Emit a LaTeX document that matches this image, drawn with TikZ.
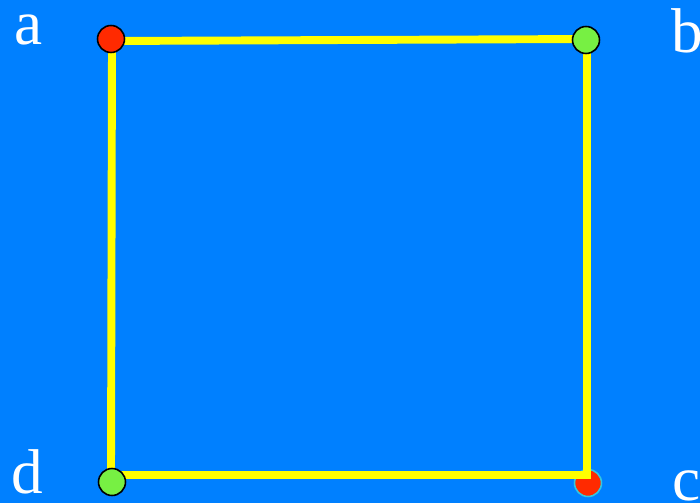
\documentclass[tikz,border=0pt]{standalone}
\usepackage{fontspec}
\setmainfont{Liberation Serif}
\usetikzlibrary{positioning}
\definecolor{bgblue}{HTML}{0080FF}
\definecolor{edgeyellow}{HTML}{FFFF00}
\definecolor{dotred}{HTML}{FF2A00}
\definecolor{dotgreen}{HTML}{77F043}
\definecolor{rimcyan}{HTML}{33C8E0}
\tikzset{
  edge/.style={draw=edgeyellow, line width=4.5pt, line join=miter},
  dot/.style={circle, draw=black, line width=0.9pt, minimum size=0.54cm, inner sep=0pt},
  reddot/.style={dot, fill=dotred},
  greendot/.style={dot, fill=dotgreen},
  cornerlabel/.style={text=white, font=\fontsize{36}{40}\selectfont, inner sep=0pt, anchor=base west},
}

\begin{document}
\begin{tikzpicture}[x=0.02cm, y=-0.02cm]
  % Hintergrund
  \fill[bgblue] (0,0) rectangle (700,503);
  \useasboundingbox (0,0) rectangle (700,503);
  % Ecken des Quadrats
  \coordinate (A) at (112,41);
  \coordinate (B) at (587,39);
  \coordinate (C) at (587,475);
  \coordinate (D) at (111,475);
  % Punkt c liegt unter den Kanten
  \node[reddot, draw=rimcyan] (c) at (588,483) {};
  % Kanten
  \draw[edge] (A) -- (B) -- (C) -- (D) -- cycle;
  % Punkte
  \node[reddot] (a) at (111,39) {};
  \node[greendot] (b) at (586,40) {};
  \node[greendot] (d) at (112,482) {};
  % Beschriftung
  \node[cornerlabel] (la) at (14,45) {a};
  \node[cornerlabel] (lb) at (671,53) {b};
  \node[cornerlabel] (ld) at (11,493) {d};
  \node[cornerlabel] (lc) at (672,500) {c};
\end{tikzpicture}
\end{document}
